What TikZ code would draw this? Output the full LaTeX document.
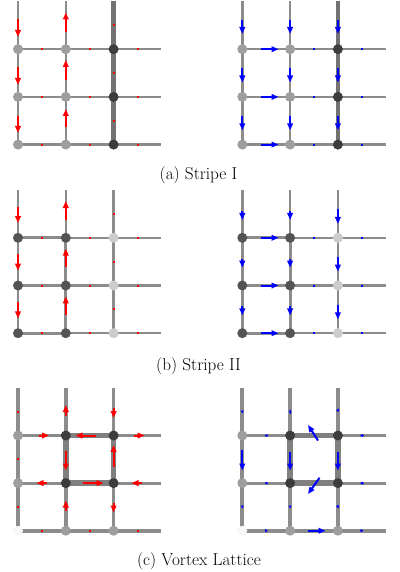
\documentclass[tikz,border=0pt]{standalone}
\usetikzlibrary{arrows.meta}
\definecolor{bondc}{gray}{0.55}
\definecolor{bondk}{gray}{0.45}
\definecolor{bondq}{gray}{0.50}
\definecolor{nlight}{gray}{0.62}
\definecolor{ndark}{gray}{0.24}
\definecolor{ndarkb}{gray}{0.33}
\definecolor{nlightb}{gray}{0.80}
\definecolor{nwhite}{gray}{0.97}
\definecolor{vred}{rgb}{1,0,0}
\definecolor{vblue}{rgb}{0,0,1}
\tikzset{
  bond/.style={draw=bondc, line width=2.5pt},
  bondm/.style={draw=bondc, line width=3.4pt},
  bondk/.style={draw=bondk, line width=4.4pt},
  bondq/.style={draw=bondq, line width=5.5pt},
  site/.style={circle, inner sep=0pt, minimum size=10pt, draw=none},
  vec/.style={line width=2pt, -{Triangle[length=7pt,width=5.6pt]}},
  vtiny/.style={line width=1pt, -{Triangle[length=2.8pt,width=2.8pt]}},
  captxt/.style={inner sep=0pt, font=\fontsize{17.2}{20}\selectfont}
}
% lattice coordinates: #1 prefix, #2 x1, #3 y1, #4 dx, #5 dy
\newcommand\mklat[5]{%
  \foreach \i in {1,...,4}{\foreach \j in {0,...,3}{%
    \coordinate (#1-\i-\j) at ({#2+(\i-1)*#4},{#3+(\j-1)*#5});}}%
  \foreach \i in {1,2,3}{\foreach \j in {1,2,3}{%
    \pgfmathtruncatemacro\jm{\j-1}%
    \draw[bond] (#1-\i-\jm) -- (#1-\i-\j);}}%
  \foreach \j in {1,2,3}{\foreach \i in {1,2,3}{%
    \pgfmathtruncatemacro\ip{\i+1}%
    \draw[bond] (#1-\i-\j) -- (#1-\ip-\j);}}%
}
\newcommand\mksites[2]{% #1 prefix, #2 list of i/j/colour
  \foreach \i/\j/\c in {#2}{\node[site, fill=\c] (#1-n\i\j) at (#1-\i-\j) {};}}
\newcommand\tdot[3]{\fill[#1] ({#2-1},{#3-1}) rectangle ({#2+1},{#3+1});}
\begin{document}
\begin{tikzpicture}[x=1pt,y=-1pt]
\useasboundingbox (0,0) rectangle (399,572);
\fill[white] (0,0) rectangle (399,572);
% ================= (a) Stripe I =================
\foreach \p/\x in {aL/18, aR/242.3}{
  \mklat{\p}{\x}{49.2}{47.8}{47.7}
  \draw[bondk] (\p-3-0) -- (\p-3-3);
  \mksites{\p}{1/1/nlight,1/2/nlight,1/3/nlight,2/1/nlight,2/2/nlight,2/3/nlight,3/1/ndark,3/2/ndark,3/3/ndark}
}
% red arrows (a) left
\draw[vec, vred] (18,19.4) -- (18,37);
\draw[vec, vred] (18,67) -- (18,85);
\draw[vec, vred] (18,116) -- (18,133);
\draw[vec, vred] (65.8,32.4) -- (65.8,12.5);
\draw[vec, vred] (65.8,80) -- (65.8,60);
\draw[vec, vred] (65.8,127.5) -- (65.8,109);
\foreach \y in {25.35,73.05,120.75}{\tdot{vred}{113.6}{\y}}
\foreach \y in {49.2,96.9,144.6}{\foreach \x in {41.9,89.7,137.5}{\tdot{vred}{\x}{\y}}}
% blue arrows (a) right
\foreach \x in {242.3,290.1,337.9}{
  \draw[vec, vblue] (\x,20.5) -- (\x,34);
  \draw[vec, vblue] (\x,68.2) -- (\x,82.5);
  \draw[vec, vblue] (\x,116) -- (\x,130.3);
}
\foreach \y in {49.2,96.9,144.6}{
  \draw[vec, vblue] (260.5,\y) -- (278.5,\y);
  \tdot{vblue}{314}{\y}\tdot{vblue}{361.8}{\y}
}
\node[captxt] (capa) at (198.5,175.5) {(a) Stripe I};
% ================= (b) Stripe II =================
\foreach \p/\x in {bL/18, bR/242.3}{
  \mklat{\p}{\x}{237.8}{47.8}{47.7}
  \foreach \j in {1,2,3}{\draw[bondc, line width=3.2pt] (\p-1-\j) -- (\p-2-\j);}
  \draw[bondc, line width=2.9pt] (\p-1-1) -- (\p-1-3);
  \draw[bondc, line width=2.9pt] (\p-2-1) -- (\p-2-3);
  \mksites{\p}{1/1/ndarkb,1/2/ndarkb,1/3/ndarkb,2/1/ndarkb,2/2/ndarkb,2/3/ndarkb,3/1/nlightb,3/2/nlightb,3/3/nlightb}
}
% red arrows (b) left
\draw[vec, vred] (18,206.5) -- (18,223);
\draw[vec, vred] (18,254.2) -- (18,270.7);
\draw[vec, vred] (18,301.9) -- (18,318.4);
\draw[vec, vred] (65.8,219.5) -- (65.8,201);
\draw[vec, vred] (65.8,267.2) -- (65.8,248.7);
\draw[vec, vred] (65.8,314.9) -- (65.8,296.4);
\foreach \y in {213.95,261.65,309.35}{\tdot{vred}{113.6}{\y}}
\foreach \y in {237.8,285.5,333.2}{\foreach \x in {41.9,89.7,137.5}{\tdot{vred}{\x}{\y}}}
% blue arrows (b) right
\foreach \m in {213.95,261.65,309.35}{
  \draw[vec, vblue] (242.3,\m-3) -- (242.3,\m+6);
  \draw[vec, vblue] (290.1,\m-3) -- (290.1,\m+6);
  \draw[vec, vblue] (337.9,\m-4.5) -- (337.9,\m+10);
}
\foreach \y in {237.8,285.5,333.2}{
  \draw[vec, vblue] (260.5,\y) -- (278.5,\y);
  \tdot{vblue}{314}{\y}\tdot{vblue}{361.8}{\y}
}
\node[captxt] (capb) at (198.5,366.5) {(b) Stripe II};
% ================= (c) Vortex Lattice =================
\foreach \p/\x in {cL/18, cR/242.3}{
  \mklat{\p}{\x}{435.5}{47.8}{47.6}
  \draw[bondc, line width=4pt] (\p-1-0) -- (\p-1-3);
  \draw[bondc, line width=4pt] (\p-1-3) -- (\p-4-3);
  \draw[bondm] (\p-2-0) -- (\p-2-1);
  \draw[bondm] (\p-3-0) -- (\p-3-1);
  \draw[bondm] (\p-1-1) -- (\p-2-1);
  \draw[bondm] (\p-3-1) -- (\p-4-1);
  \draw[bondc, line width=2.9pt] (\p-1-2) -- (\p-2-2);
  \draw[bondc, line width=2.9pt] (\p-3-2) -- (\p-4-2);
  \draw[bondm] (\p-2-2) -- (\p-2-3);
  \draw[bondm] (\p-3-2) -- (\p-3-3);
  \draw[bondq] (\p-2-1) -- (\p-3-1) -- (\p-3-2) -- (\p-2-2) -- cycle;
  \mksites{\p}{1/1/nlight,2/1/ndark,3/1/ndark,1/2/nlight,2/2/ndark,3/2/ndark,1/3/nwhite,2/3/nlight,3/3/nlight}
}
% red arrows (c) left
\foreach \y in {411.7,459.3,506.9}{\tdot{vred}{18}{\y}}
\draw[vec, vred] (65.8,415.5) -- (65.8,405);
\draw[vec, vred] (113.6,407.5) -- (113.6,418);
\draw[vec, vred] (38.5,435.5) -- (49,435.5);
\draw[vec, vred] (96,435.5) -- (75.5,435.5);
\draw[vec, vred] (134,435.5) -- (144.5,435.5);
\draw[vec, vred] (65.8,451) -- (65.8,470.5);
\draw[vec, vred] (113.6,466.5) -- (113.6,445);
\draw[vec, vred] (46.5,483.1) -- (36.5,483.1);
\draw[vec, vred] (83,483.1) -- (103.5,483.1);
\draw[vec, vred] (141.5,483.1) -- (131.5,483.1);
\draw[vec, vred] (65.8,510.5) -- (65.8,500.5);
\draw[vec, vred] (113.6,502.5) -- (113.6,512.5);
\foreach \x in {41.9,89.7,137.5}{\tdot{vred}{\x}{530.7}}
% blue arrows (c) right
\draw[vtiny, vblue] (242.3,410.5) -- (242.3,413.5);
\draw[vtiny, vblue] (290.1,413.5) -- (290.1,409.5);
\draw[vtiny, vblue] (337.2,411.5) -- (338.8,408.5);
\draw[vtiny, vblue] (268,435.5) -- (264.5,435.5);
\draw[vtiny, vblue] (363.5,435.5) -- (360,435.5);
\draw[vec, vblue] (318,440.5) -- (308,425);
\draw[vec, vblue] (242.3,449.5) -- (242.3,470.5);
\draw[vec, vblue] (290.1,451.5) -- (290.1,470.5);
\draw[vec, vblue] (337.9,451.5) -- (337.9,470.5);
\draw[vtiny, vblue] (268,483.1) -- (264.5,483.1);
\draw[vtiny, vblue] (363.5,483.1) -- (360,483.1);
\draw[vec, vblue] (319.5,477.8) -- (308,494);
\draw[vtiny, vblue] (242.3,505.5) -- (242.3,508.5);
\draw[vtiny, vblue] (290.1,505.5) -- (290.1,508.5);
\draw[vtiny, vblue] (337.2,505.3) -- (338.6,508.5);
\draw[vtiny, vblue] (264.5,530.7) -- (268,530.7);
\draw[vec, vblue] (307.5,530.7) -- (325.5,530.7);
\draw[vtiny, vblue] (360,530.7) -- (363.5,530.7);
\node[captxt] (capc) at (199,561) {(c) Vortex Lattice};
\end{tikzpicture}
\end{document}
